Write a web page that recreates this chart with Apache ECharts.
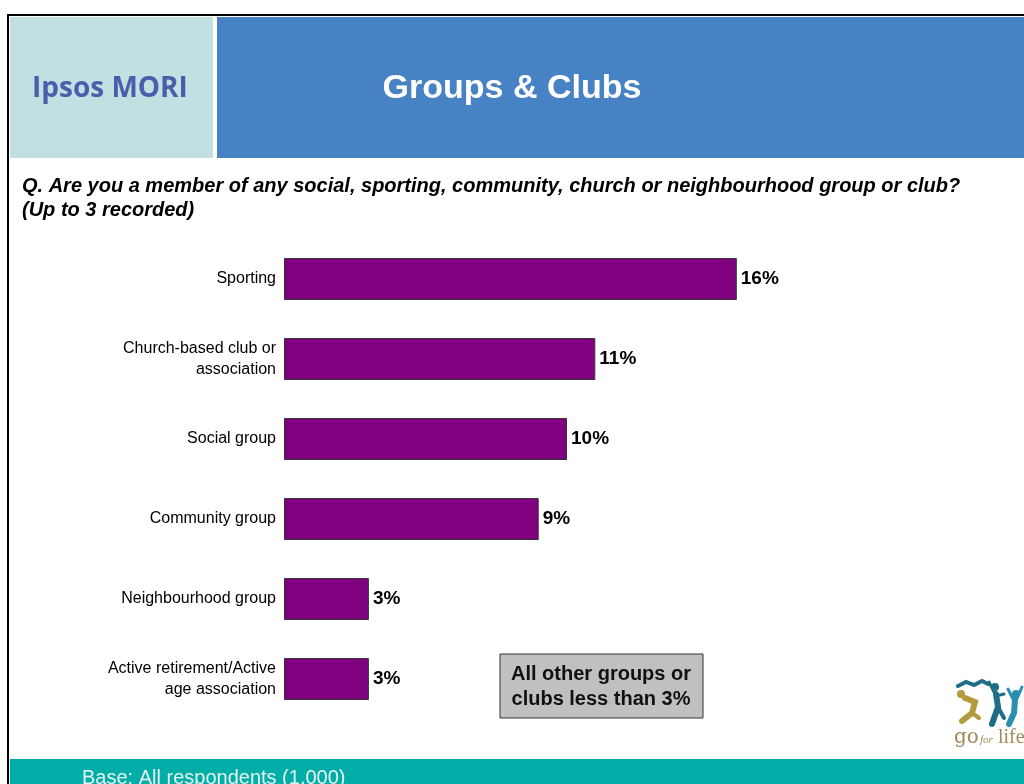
<!DOCTYPE html>
<html>
<head>
<meta charset="utf-8">
<script src="https://cdn.jsdelivr.net/npm/echarts@6/dist/echarts.min.js"></script>
<style>
  html, body { margin: 0; padding: 0; background: #fff; }
  #chart { width: 1024px; height: 784px; }
</style>
</head>
<body>
<div id="chart"></div>
<script>
var categories = ['Sporting', 'Church-based club or\nassociation', 'Social group', 'Community group', 'Neighbourhood group', 'Active retirement/Active\nage association']
var values = [16, 11, 10, 9, 3, 3]

var myChart = echarts.init(document.getElementById('chart'))

var font = 'Arial, "Liberation Sans", sans-serif'

var option = {
    backgroundColor: '#ffffff',
    animation: false,
    grid: { left: 284, top: 239, width: 566, height: 480 },
    xAxis: {
        type: 'value', min: 0, max: 20, show: false
    },
    yAxis: {
        type: 'category',
        data: categories,
        inverse: true,
        axisLine: { show: false },
        axisTick: { show: false },
        axisLabel: {
            color: '#000', fontFamily: font, fontSize: 16,
            margin: 8, lineHeight: 21, align: 'right'
        }
    },
    series: [{
        type: 'bar',
        data: values,
        barWidth: 42,
        itemStyle: { color: '#800080', borderColor: '#333', borderWidth: 1 },
        label: {
            show: true, position: 'right', distance: 4,
            formatter: '{c}%',
            color: '#000', fontWeight: 'bold', fontSize: 19,
            fontFamily: font
        }
    }],
    graphic: [
        // frame
        { type: 'rect', shape: { x: 8, y: 15, width: 1030, height: 800 }, style: { fill: 'none', stroke: '#000', lineWidth: 2 } },
        // header panels
        { type: 'rect', shape: { x: 10, y: 17, width: 203, height: 141 }, style: { fill: '#c2e0e2' } },
        { type: 'rect', shape: { x: 217, y: 17, width: 807, height: 141 }, style: { fill: '#4682c4' } },
        { type: 'text', x: 32, y: 89, style: { text: 'Ipsos MORI', fill: '#4b5dab', font: 'bold 28px "Open Sans", Arial, sans-serif', verticalAlign: 'middle' } },
        { type: 'text', x: 512, y: 89, style: { text: 'Groups & Clubs', fill: '#fff', font: 'bold 34px ' + font, align: 'center', verticalAlign: 'middle' } },
        // question
        { type: 'text', x: 22, y: 174, style: { text: 'Q. Are you a member of any social, sporting, community, church or neighbourhood group or club?\n(Up to 3 recorded)', fill: '#000', font: 'italic bold 20px ' + font, lineHeight: 24, verticalAlign: 'top' } },
        // note box
        { type: 'rect', shape: { x: 500, y: 654, width: 203, height: 64 }, style: { fill: '#c0c0c0', stroke: '#333', lineWidth: 1 } },
        { type: 'text', x: 601, y: 687, style: { text: 'All other groups or\nclubs less than 3%', fill: '#111', font: 'bold 20px ' + font, align: 'center', verticalAlign: 'middle', lineHeight: 25 } },
        // go for life logo (rough sketch)
        { type: 'polyline', shape: { points: [[958, 686], [966, 682], [974, 685], [982, 681], [988, 684]] }, style: { stroke: '#1d6e86', lineWidth: 4, fill: 'none', lineCap: 'round' } },
        { type: 'circle', shape: { cx: 961, cy: 694, r: 4 }, style: { fill: '#b39a3c' } },
        { type: 'polyline', shape: { points: [[965, 698], [975, 702], [972, 713], [962, 721]] }, style: { stroke: '#b39a3c', lineWidth: 6, fill: 'none', lineCap: 'round' } },
        { type: 'polyline', shape: { points: [[972, 713], [979, 718]] }, style: { stroke: '#b39a3c', lineWidth: 4, fill: 'none', lineCap: 'round' } },
        { type: 'circle', shape: { cx: 995, cy: 687, r: 4 }, style: { fill: '#1d6e86' } },
        { type: 'polyline', shape: { points: [[996, 694], [998, 707], [992, 724]] }, style: { stroke: '#1d6e86', lineWidth: 6, fill: 'none', lineCap: 'round' } },
        { type: 'polyline', shape: { points: [[998, 707], [1004, 718]] }, style: { stroke: '#1d6e86', lineWidth: 4, fill: 'none', lineCap: 'round' } },
        { type: 'polyline', shape: { points: [[989, 682], [996, 696], [1004, 694]] }, style: { stroke: '#1d6e86', lineWidth: 3, fill: 'none', lineCap: 'round' } },
        { type: 'circle', shape: { cx: 1016, cy: 694, r: 4 }, style: { fill: '#2a8fb0' } },
        { type: 'polyline', shape: { points: [[1015, 700], [1014, 713], [1009, 724]] }, style: { stroke: '#2a8fb0', lineWidth: 6, fill: 'none', lineCap: 'round' } },
        { type: 'polyline', shape: { points: [[1008, 689], [1015, 703], [1022, 687]] }, style: { stroke: '#2a8fb0', lineWidth: 3, fill: 'none', lineCap: 'round' } },
        { type: 'text', x: 954, y: 738, style: { text: 'go', fill: '#a08a5a', font: '20px "DejaVu Serif", "Liberation Serif", serif', verticalAlign: 'middle' } },
        { type: 'text', x: 980, y: 740, style: { text: 'for', fill: '#a08a5a', font: 'italic 11px "Liberation Serif", serif', verticalAlign: 'middle' } },
        { type: 'text', x: 998, y: 738, style: { text: 'life', fill: '#a08a5a', font: '20px "Liberation Serif", serif', verticalAlign: 'middle' } },
        // footer
        { type: 'rect', shape: { x: 10, y: 759, width: 1014, height: 25 }, style: { fill: '#00aea7' } },
        { type: 'text', x: 82, y: 768, style: { text: 'Base: All respondents (1,000)', fill: '#e8f4f4', font: '20px ' + font } }
    ]
}

myChart.setOption(option)
</script>
</body>
</html>
